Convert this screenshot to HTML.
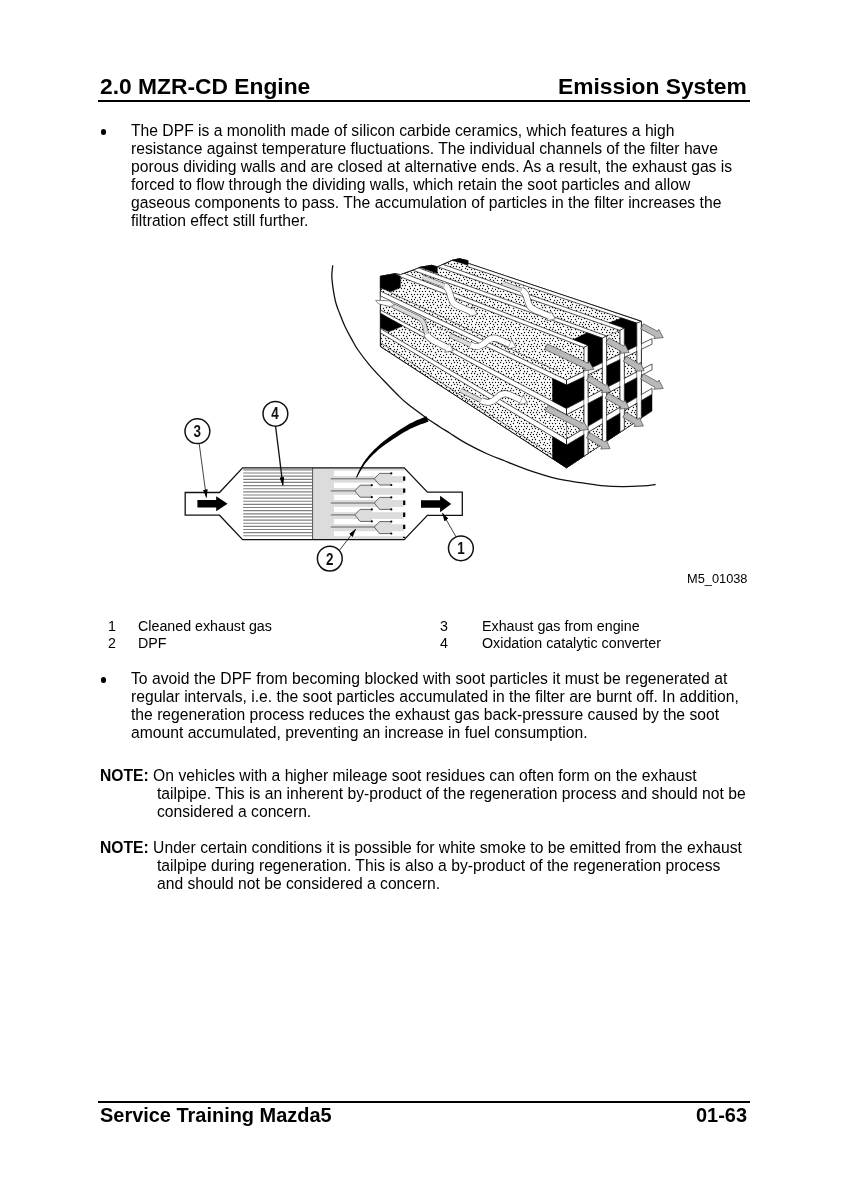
<!DOCTYPE html>
<html lang="en">
<head>
<meta charset="utf-8">
<title>2.0 MZR-CD Engine - Emission System</title>
<style>
html,body{margin:0;padding:0;background:#fff;}
body{width:848px;height:1200px;position:relative;overflow:hidden;font-family:"Liberation Sans",Arial,Helvetica,sans-serif;color:#000;}
.l,.h,.f,.s,.c{will-change:transform;}
.l{position:absolute;white-space:nowrap;font-size:15.68px;line-height:18px;height:18px;}
.h{position:absolute;white-space:nowrap;font-weight:bold;font-size:22.8px;line-height:26px;height:26px;}
.f{position:absolute;white-space:nowrap;font-weight:bold;font-size:19.95px;line-height:22px;height:22px;}
.s{position:absolute;white-space:nowrap;font-size:12.8px;line-height:16px;height:16px;}
.c{position:absolute;white-space:nowrap;font-size:14.25px;line-height:17px;height:17px;}
.rule{position:absolute;left:98.4px;width:651.2px;background:#000;}
.dot{position:absolute;width:5.4px;height:5.4px;border-radius:50%;background:#000;}
b{font-weight:bold;}
svg{position:absolute;left:0;top:0;}
</style>
</head>
<body>
<!-- header -->
<div class="h" style="left:100.2px;top:73px;">2.0 MZR-CD Engine</div>
<div class="h" style="right:101px;top:73px;">Emission System</div>
<div class="rule" style="top:100.1px;height:2.2px;"></div>

<!-- bullet 1 -->
<div class="dot" style="left:101px;top:129.2px;"></div>
<div class="l" style="left:131px;top:122px;">The DPF is a monolith made of silicon carbide ceramics, which features a high</div>
<div class="l" style="left:131px;top:140px;">resistance against temperature fluctuations. The individual channels of the filter have</div>
<div class="l" style="left:131px;top:158px;">porous dividing walls and are closed at alternative ends. As a result, the exhaust gas is</div>
<div class="l" style="left:131px;top:176px;">forced to flow through the dividing walls, which retain the soot particles and allow</div>
<div class="l" style="left:131px;top:194px;">gaseous components to pass. The accumulation of particles in the filter increases the</div>
<div class="l" style="left:131px;top:212px;">filtration effect still further.</div>

<!-- FIGURE -->
<svg id="fig" width="848" height="1200" viewBox="0 0 848 1200">
<!--FIG1-->
<defs>
<marker id="ah" viewBox="0 0 10 10" refX="9.5" refY="5" markerWidth="8.6" markerHeight="4.8" markerUnits="userSpaceOnUse" orient="auto" preserveAspectRatio="none"><path d="M0,0 L10,5 L0,10 z" fill="#000"/></marker>
</defs>
<!-- converter body -->
<g id="conv" fill="none" stroke="#000" stroke-linejoin="miter">
<rect x="312.6" y="467.8" width="91.6" height="71.6" fill="#dcdcdc" stroke="none"/>
<g id="oxlines" stroke="#808080" stroke-width="1.15">
<line x1="243.2" y1="469.90" x2="312.4" y2="469.90"/>
<line x1="243.2" y1="473.04" x2="312.4" y2="473.04"/>
<line x1="243.2" y1="476.17" x2="312.4" y2="476.17"/>
<line x1="243.2" y1="479.31" x2="312.4" y2="479.31"/>
<line x1="243.2" y1="482.44" x2="312.4" y2="482.44"/>
<line x1="243.2" y1="485.58" x2="312.4" y2="485.58"/>
<line x1="243.2" y1="488.71" x2="312.4" y2="488.71"/>
<line x1="243.2" y1="491.85" x2="312.4" y2="491.85"/>
<line x1="243.2" y1="494.99" x2="312.4" y2="494.99"/>
<line x1="243.2" y1="498.12" x2="312.4" y2="498.12"/>
<line x1="243.2" y1="501.26" x2="312.4" y2="501.26"/>
<line x1="243.2" y1="504.39" x2="312.4" y2="504.39"/>
<line x1="243.2" y1="507.53" x2="312.4" y2="507.53"/>
<line x1="243.2" y1="510.66" x2="312.4" y2="510.66"/>
<line x1="243.2" y1="513.80" x2="312.4" y2="513.80"/>
<line x1="243.2" y1="516.94" x2="312.4" y2="516.94"/>
<line x1="243.2" y1="520.07" x2="312.4" y2="520.07"/>
<line x1="243.2" y1="523.21" x2="312.4" y2="523.21"/>
<line x1="243.2" y1="526.34" x2="312.4" y2="526.34"/>
<line x1="243.2" y1="529.48" x2="312.4" y2="529.48"/>
<line x1="243.2" y1="532.61" x2="312.4" y2="532.61"/>
<line x1="243.2" y1="535.75" x2="312.4" y2="535.75"/>
</g>
<!-- white clean channels -->
<g fill="#fff" stroke="none">
<rect x="334" y="470.8" width="70.2" height="5.3"/>
<rect x="334" y="482.6" width="70.2" height="5.3"/>
<rect x="334" y="494.8" width="70.2" height="5.2"/>
<rect x="334" y="506.9" width="70.2" height="5.3"/>
<rect x="334" y="519" width="70.2" height="5.2"/>
<rect x="334" y="531.2" width="70.2" height="5"/>
</g>
<!-- grey diamonds -->
<g fill="#dcdcdc" stroke="none">
<path d="M374.3,478.8 L379.5,473.4 L391.3,473.4 L391.3,485 L379.5,485 z"/>
<path d="M374.3,503 L379.5,497.4 L391.3,497.4 L391.3,509.4 L379.5,509.4 z"/>
<path d="M374.3,527 L379.5,521.6 L391.3,521.6 L391.3,533.6 L379.5,533.6 z"/>
<path d="M354.8,490.9 L360,485.2 L372,485.2 L372,497.2 L360,497.2 z"/>
<path d="M354.8,514.9 L360,509.4 L372,509.4 L372,521.4 L360,521.4 z"/>
</g>
<g stroke="#3a3a3a" stroke-width="0.75">
<path d="M330.8,478.8 H374.3 L379.5,473.4 H391 M374.3,478.8 L379.5,485 H391"/>
<path d="M330.8,503 H374.3 L379.5,497.4 H391 M374.3,503 L379.5,509.4 H391"/>
<path d="M330.8,527 H374.3 L379.5,521.6 H391 M374.3,527 L379.5,533.6 H391"/>
<path d="M330.8,490.9 H354.8 L360,485.2 H371.5 M354.8,490.9 L360,497.2 H371.5"/>
<path d="M330.8,514.9 H354.8 L360,509.4 H371.5 M354.8,514.9 L360,521.4 H371.5"/>
</g>
<g fill="#000" stroke="none">
<circle cx="391.3" cy="473.4" r="1.1"/><circle cx="391.3" cy="485" r="1.1"/>
<circle cx="391.3" cy="497.4" r="1.1"/><circle cx="391.3" cy="509.4" r="1.1"/>
<circle cx="391.3" cy="521.6" r="1.1"/><circle cx="391.3" cy="533.6" r="1.1"/>
<circle cx="371.8" cy="485.2" r="1.1"/><circle cx="371.8" cy="497.2" r="1.1"/>
<circle cx="371.8" cy="509.4" r="1.1"/><circle cx="371.8" cy="521.4" r="1.1"/>
</g>
<line x1="404.2" y1="470" x2="404.2" y2="538" stroke="#000" stroke-width="2.2" stroke-dasharray="4.4,7.66" stroke-dashoffset="-6.4"/>
<line x1="312.6" y1="467.8" x2="312.6" y2="539.4" stroke="#555" stroke-width="1"/>
<path d="M185.2,492.5 H219.5 L242.6,467.8 H404.2 L427.4,492.2 H462.3 V515.4 H427.4 L404.2,539.6 H242.6 L219.5,515.2 H185.2 z" stroke="#111" stroke-width="1.3"/>
</g>
<!-- black flow arrows -->
<path d="M197.4,500 H216.2 V496.2 L227.6,503.7 L216.2,511.2 V507.4 H197.4 z" fill="#000"/>
<path d="M421,500.2 H440.1 V495.7 L451.2,503.9 L440.1,512.2 V507.8 H421 z" fill="#000"/>
<!-- callouts -->
<g fill="#fff" stroke="#111" stroke-width="1.5">
<circle cx="197.4" cy="431.2" r="12.4"/>
<circle cx="275.4" cy="413.8" r="12.4"/>
<circle cx="329.8" cy="558.6" r="12.4"/>
<circle cx="460.9" cy="548.3" r="12.4"/>
</g>
<g font-family="'Liberation Sans',Arial,sans-serif" font-weight="bold" font-size="16.8" text-anchor="middle" fill="#111">
<text x="197.3" y="437.3" transform="translate(197.3 0) scale(0.8 1) translate(-197.3 0)">3</text>
<text x="275.0" y="419.3" transform="translate(275.0 0) scale(0.8 1) translate(-275.0 0)">4</text>
<text x="329.8" y="564.6" transform="translate(329.8 0) scale(0.8 1) translate(-329.8 0)">2</text>
<text x="460.9" y="554.3" transform="translate(460.9 0) scale(0.8 1) translate(-460.9 0)">1</text>
</g>
<g stroke="#111" stroke-width="0.8" fill="none">
<line x1="199.2" y1="443.7" x2="206.4" y2="497.6" marker-end="url(#ah)"/>
<line x1="275.6" y1="426.4" x2="282.9" y2="485.4" marker-end="url(#ah)" stroke-width="1.3"/>
<line x1="339.3" y1="550.5" x2="355.8" y2="529" marker-end="url(#ah)"/>
<line x1="456" y1="536.8" x2="442.4" y2="513" marker-end="url(#ah)"/>
</g>

<!--/FIG1-->
<!--FIG2-->
<defs><pattern id="dots" width="26.00" height="22.00" patternUnits="userSpaceOnUse"><rect x="-1" y="-1" width="28.00" height="24.00" fill="#fff"/><g fill="#111"><circle cx="-0.50" cy="-0.50" r="0.7"/><circle cx="-0.50" cy="21.50" r="0.7"/><circle cx="25.50" cy="-0.50" r="0.7"/><circle cx="25.50" cy="21.50" r="0.7"/><circle cx="3.50" cy="-0.50" r="0.7"/><circle cx="3.50" cy="21.50" r="0.7"/><circle cx="6.50" cy="-0.50" r="0.7"/><circle cx="6.50" cy="21.50" r="0.7"/><circle cx="9.50" cy="0.50" r="0.7"/><circle cx="9.50" cy="22.50" r="0.7"/><circle cx="12.50" cy="-0.50" r="0.7"/><circle cx="12.50" cy="21.50" r="0.7"/><circle cx="15.50" cy="-0.50" r="0.7"/><circle cx="15.50" cy="21.50" r="0.7"/><circle cx="19.50" cy="0.50" r="0.7"/><circle cx="19.50" cy="22.50" r="0.7"/><circle cx="22.50" cy="-0.50" r="0.7"/><circle cx="22.50" cy="21.50" r="0.7"/><circle cx="1.50" cy="3.50" r="0.7"/><circle cx="4.50" cy="2.50" r="0.7"/><circle cx="8.50" cy="2.50" r="0.7"/><circle cx="11.50" cy="2.50" r="0.7"/><circle cx="14.50" cy="2.50" r="0.7"/><circle cx="17.50" cy="3.50" r="0.7"/><circle cx="20.50" cy="2.50" r="0.7"/><circle cx="24.50" cy="2.50" r="0.7"/><circle cx="-0.50" cy="5.50" r="0.7"/><circle cx="25.50" cy="5.50" r="0.7"/><circle cx="3.50" cy="5.50" r="0.7"/><circle cx="6.50" cy="5.50" r="0.7"/><circle cx="9.50" cy="5.50" r="0.7"/><circle cx="13.50" cy="5.50" r="0.7"/><circle cx="16.50" cy="6.50" r="0.7"/><circle cx="19.50" cy="5.50" r="0.7"/><circle cx="23.50" cy="4.50" r="0.7"/><circle cx="1.50" cy="8.50" r="0.7"/><circle cx="4.50" cy="8.50" r="0.7"/><circle cx="7.50" cy="8.50" r="0.7"/><circle cx="11.50" cy="8.50" r="0.7"/><circle cx="14.50" cy="8.50" r="0.7"/><circle cx="17.50" cy="8.50" r="0.7"/><circle cx="21.50" cy="8.50" r="0.7"/><circle cx="24.50" cy="8.50" r="0.7"/><circle cx="-0.50" cy="11.50" r="0.7"/><circle cx="25.50" cy="11.50" r="0.7"/><circle cx="3.50" cy="11.50" r="0.7"/><circle cx="6.50" cy="10.50" r="0.7"/><circle cx="9.50" cy="11.50" r="0.7"/><circle cx="12.50" cy="10.50" r="0.7"/><circle cx="15.50" cy="10.50" r="0.7"/><circle cx="18.50" cy="11.50" r="0.7"/><circle cx="22.50" cy="10.50" r="0.7"/><circle cx="1.50" cy="14.50" r="0.7"/><circle cx="4.50" cy="13.50" r="0.7"/><circle cx="8.50" cy="14.50" r="0.7"/><circle cx="11.50" cy="14.50" r="0.7"/><circle cx="14.50" cy="13.50" r="0.7"/><circle cx="17.50" cy="14.50" r="0.7"/><circle cx="21.50" cy="13.50" r="0.7"/><circle cx="24.50" cy="13.50" r="0.7"/><circle cx="-0.50" cy="16.50" r="0.7"/><circle cx="25.50" cy="16.50" r="0.7"/><circle cx="3.50" cy="16.50" r="0.7"/><circle cx="7.50" cy="16.50" r="0.7"/><circle cx="10.50" cy="16.50" r="0.7"/><circle cx="13.50" cy="16.50" r="0.7"/><circle cx="16.50" cy="16.50" r="0.7"/><circle cx="19.50" cy="16.50" r="0.7"/><circle cx="22.50" cy="15.50" r="0.7"/><circle cx="0.50" cy="18.50" r="0.7"/><circle cx="26.50" cy="18.50" r="0.7"/><circle cx="4.50" cy="19.50" r="0.7"/><circle cx="7.50" cy="19.50" r="0.7"/><circle cx="11.50" cy="18.50" r="0.7"/><circle cx="14.50" cy="19.50" r="0.7"/><circle cx="17.50" cy="18.50" r="0.7"/><circle cx="21.50" cy="19.50" r="0.7"/><circle cx="24.50" cy="19.50" r="0.7"/></g></pattern></defs>
<path d="M332.7,265.3 C332.6,267.0 331.8,272.2 331.8,275.6 C331.8,279.0 332.3,282.2 332.7,285.7 C333.1,289.1 333.8,293.1 334.4,296.3 C335.0,299.5 335.6,302.1 336.5,305.0 C337.4,307.9 338.3,310.0 339.7,313.6 C341.1,317.2 343.0,322.3 345.0,326.5 C347.0,330.7 349.3,335.0 351.5,338.9 C353.7,342.8 354.9,345.6 358.0,350.0 C361.1,354.4 365.8,360.6 370.0,365.6 C374.2,370.6 378.4,374.9 383.0,379.8 C387.6,384.7 393.7,390.9 397.8,395.0 C401.9,399.1 403.1,400.4 407.7,404.1 C412.3,407.8 420.1,413.4 425.4,417.2 C430.7,421.0 435.4,424.0 439.5,426.7 C443.6,429.4 445.6,430.5 450.0,433.3 C454.4,436.1 459.9,439.9 466.2,443.4 C472.4,446.8 481.0,451.1 487.5,454.0 C494.0,456.9 498.2,458.3 505.0,461.0 C511.8,463.7 519.7,467.2 528.3,470.2 C536.9,473.1 548.0,476.6 556.6,478.7 C565.2,480.8 572.6,481.5 580.0,482.6 C587.4,483.8 594.1,484.9 601.2,485.6 C608.3,486.3 615.4,486.6 622.5,486.6 C629.6,486.7 638.2,486.2 643.7,485.9 C649.2,485.5 653.6,484.7 655.6,484.5" fill="none" stroke="#111" stroke-width="1.3"/>
<polygon points="356.8,477.8 357.5,476.8 358.2,475.3 359.1,473.6 360.1,471.7 361.2,469.8 362.4,467.8 363.6,465.9 364.8,464.1 366.0,462.5 367.3,460.9 368.6,459.4 370.0,457.8 371.5,456.3 373.0,454.7 374.6,453.2 376.3,451.7 378.1,450.1 379.9,448.6 381.9,447.0 383.9,445.5 386.0,443.9 388.2,442.4 390.4,440.9 392.6,439.4 394.9,437.9 397.4,436.4 399.9,434.8 402.4,433.3 404.9,431.8 407.4,430.4 409.8,429.1 412.1,428.0 414.4,426.9 416.7,425.9 419.1,425.0 421.4,424.1 423.6,423.4 425.6,422.7 427.3,422.1 428.6,421.7 426.4,416.3 425.2,416.8 423.6,417.5 421.7,418.3 419.5,419.2 417.1,420.1 414.7,421.2 412.3,422.4 409.9,423.6 407.5,425.0 405.1,426.4 402.6,427.9 400.1,429.6 397.6,431.2 395.1,432.9 392.7,434.6 390.4,436.2 388.2,437.8 386.0,439.5 383.9,441.1 381.8,442.8 379.8,444.5 377.9,446.2 376.1,447.9 374.3,449.5 372.7,451.2 371.1,452.9 369.6,454.6 368.2,456.2 366.9,457.9 365.6,459.6 364.4,461.3 363.2,463.1 362.1,464.9 360.9,466.9 359.9,469.0 358.8,471.1 357.9,473.0 357.1,474.8 356.5,476.3 356.0,477.4" fill="#000"/>
<g id="block"><polygon points="380.4,276.3 395.0,273.7 400.5,274.6 413.7,269.9 419.9,267.3 431.5,265.3 437.3,266.9 452.1,260.3 459.5,258.7 467.8,260.7 467.8,263.2 641.4,321.3 641.3,418.2 566.5,467.8 380.4,346.5" fill="url(#dots)" stroke="#111" stroke-width="0.8" stroke-linejoin="round" />
<clipPath id="silclip"><polygon points="380.4,276.3 395.0,273.7 400.5,274.6 413.7,269.9 419.9,267.3 431.5,265.3 437.3,266.9 452.1,260.3 459.5,258.7 467.8,260.7 467.8,263.2 641.4,321.3 641.3,418.2 566.5,467.8 380.4,346.5"/></clipPath>
<g clip-path="url(#silclip)">
<polygon points="467.7,262.2 641.4,321.3 636.8,323.1 467.7,266.6" fill="#fff" stroke="#111" stroke-width="0.7" stroke-linejoin="round" />
<polygon points="429.5,259.7 624.3,328.0 620.0,330.4 429.5,263.9" fill="#fff" stroke="#111" stroke-width="0.7" stroke-linejoin="round" />
<polygon points="407.0,263.7 606.6,336.0 602.4,338.2 407.0,268.2" fill="#fff" stroke="#111" stroke-width="0.7" stroke-linejoin="round" />
<polygon points="392.5,268.8 588.0,345.2 584.0,347.5 392.5,273.8" fill="#fff" stroke="#111" stroke-width="0.7" stroke-linejoin="round" />
</g>
<polygon points="380.4,276.3 395.0,273.7 400.5,274.6 413.7,269.9 419.9,267.3 431.5,265.3 437.3,266.9 452.1,260.3 459.5,258.7 467.8,260.7 467.8,263.2 641.4,321.3 641.3,418.2 566.5,467.8 380.4,346.5" fill="none" stroke="#111" stroke-width="0.8" stroke-linejoin="round"/>
<polygon points="380.4,291.0 566.5,380.0 566.5,385.1 380.4,296.0" fill="#fff" stroke="#111" stroke-width="0.7" stroke-linejoin="round" />
<polygon points="380.4,310.0 566.5,408.5 566.5,414.7 380.4,313.6" fill="#fff" stroke="#111" stroke-width="0.7" stroke-linejoin="round" />
<polygon points="380.4,328.6 566.5,439.0 566.5,445.0 380.4,332.8" fill="#fff" stroke="#111" stroke-width="0.7" stroke-linejoin="round" />
<line x1="390.4" y1="292.6" x2="558.5" y2="371.6" stroke="#111" stroke-width="0.6"/>
<polygon points="380.4,296.0 424.0,316.9 424.0,323.1 380.4,301.6" fill="#fff" stroke="#333" stroke-width="0.5" stroke-linejoin="round" />
<line x1="380.4" y1="342.6" x2="552.5" y2="455.5" stroke="#111" stroke-width="0.6"/>
<line x1="383.4" y1="300.6" x2="470" y2="342.3" stroke="#222" stroke-width="1.1" stroke-dasharray="1,1.6"/>
<polygon points="380.4,276.3 395.0,273.7 400.4,276.3 400.4,287.6 390.8,291.8 380.4,288.0" fill="#000" stroke="#111" stroke-width="0.5" stroke-linejoin="round" />
<polygon points="380.8,313.4 402.1,325.5 402.1,326.3 388.8,331.8 380.8,328.0" fill="#000" stroke="#111" stroke-width="0.5" stroke-linejoin="round" />
<polygon points="419.9,267.3 431.5,265.3 437.3,266.9 437.3,273.5" fill="#000" stroke="#111" stroke-width="0.5" stroke-linejoin="round" />
<polygon points="452.1,260.3 459.5,258.7 467.8,260.7 467.8,265.3" fill="#000" stroke="#111" stroke-width="0.5" stroke-linejoin="round" />
<polygon points="588.0,374.8 602.4,367.9 602.4,389.8 588.0,397.3" fill="url(#dots)" stroke="#111" stroke-width="0.5" stroke-linejoin="round" />
<polygon points="606.6,365.9 620.0,359.5 620.0,380.7 606.6,387.6" fill="#000" stroke="#111" stroke-width="0.5" stroke-linejoin="round" />
<polygon points="624.3,357.5 637.0,351.4 637.0,371.8 624.3,378.4" fill="url(#dots)" stroke="#111" stroke-width="0.5" stroke-linejoin="round" />
<polygon points="588.0,403.4 602.4,395.8 602.4,417.7 588.0,426.3" fill="#000" stroke="#111" stroke-width="0.5" stroke-linejoin="round" />
<polygon points="606.6,393.6 620.0,386.6 620.0,407.3 606.6,415.2" fill="url(#dots)" stroke="#111" stroke-width="0.5" stroke-linejoin="round" />
<polygon points="624.3,384.3 637.0,377.7 637.0,397.2 624.3,404.7" fill="#000" stroke="#111" stroke-width="0.5" stroke-linejoin="round" />
<polygon points="588.0,432.2 602.4,423.7 602.4,444.0 588.0,453.5" fill="url(#dots)" stroke="#111" stroke-width="0.5" stroke-linejoin="round" />
<polygon points="606.6,421.2 620.0,413.2 620.0,432.3 606.6,441.2" fill="#000" stroke="#111" stroke-width="0.5" stroke-linejoin="round" />
<polygon points="624.3,410.7 637.0,403.1 637.0,421.0 624.3,429.5" fill="url(#dots)" stroke="#111" stroke-width="0.5" stroke-linejoin="round" />
<polygon points="641.3,400.6 652.0,394.2 652.0,411.1 641.3,418.2" fill="#000" stroke="#111" stroke-width="0.5" stroke-linejoin="round" />
<polygon points="552.5,378.4 566.5,385.1 584.0,376.7 584.0,399.4 566.5,408.5 552.5,401.1" fill="#000" stroke="#111" stroke-width="0.5" stroke-linejoin="round" />
<polygon points="552.5,436.6 566.5,445.0 584.0,434.6 584.0,456.2 566.5,467.8 552.5,458.7" fill="#000" stroke="#111" stroke-width="0.5" stroke-linejoin="round" />
<polygon points="566.5,414.7 584.0,405.5 584.0,428.6 566.5,439.0" fill="url(#dots)" stroke="#111" stroke-width="0.5" stroke-linejoin="round" />
<polygon points="573.3,339.5 587.0,332.7 602.4,338.2 602.4,362.6 588.0,369.6 588.0,345.2" fill="#000" stroke="#111" stroke-width="0.5" stroke-linejoin="round" />
<polygon points="609.4,322.8 621.5,318.0 636.8,323.1 637.0,345.9 624.3,352.0 624.3,328.0" fill="#000" stroke="#111" stroke-width="0.5" stroke-linejoin="round" />
<polygon points="606.6,336.0 620.0,330.4 620.0,354.1 606.6,360.6" fill="url(#dots)" stroke="#111" stroke-width="0.5" stroke-linejoin="round" />
<line x1="566.5" y1="380.0" x2="584.0" y2="371.5" stroke="#111" stroke-width="0.7"/>
<polygon points="566.5,380.0 652.0,338.6 652.0,344.2 566.5,385.1" fill="#fff" stroke="#111" stroke-width="0.7" stroke-linejoin="round" />
<polygon points="566.5,408.5 652.0,364.0 652.0,369.8 566.5,414.7" fill="#fff" stroke="#111" stroke-width="0.7" stroke-linejoin="round" />
<polygon points="566.5,439.0 652.0,388.3 652.0,394.2 566.5,445.0" fill="#fff" stroke="#111" stroke-width="0.7" stroke-linejoin="round" />
<polygon points="584.0,347.5 588.0,345.2 588.0,453.5 584.0,456.2" fill="#fff" stroke="#111" stroke-width="0.7" stroke-linejoin="round" />
<polygon points="602.4,338.2 606.6,336.0 606.6,441.2 602.4,444.0" fill="#fff" stroke="#111" stroke-width="0.7" stroke-linejoin="round" />
<polygon points="620.0,330.4 624.3,328.0 624.3,429.5 620.0,432.3" fill="#fff" stroke="#111" stroke-width="0.7" stroke-linejoin="round" />
<polygon points="636.8,323.1 641.4,321.3 641.3,418.2 637.0,421.0" fill="#fff" stroke="#111" stroke-width="0.7" stroke-linejoin="round" />
<polygon points="584.4,371.8 587.6,370.3 587.6,374.5 584.4,376.0" fill="#fff" stroke="none" stroke-width="0.7" stroke-linejoin="round" />
<polygon points="602.8,362.9 606.2,361.3 606.2,365.6 602.8,367.2" fill="#fff" stroke="none" stroke-width="0.7" stroke-linejoin="round" />
<polygon points="620.4,354.4 623.9,352.7 623.9,357.1 620.4,358.8" fill="#fff" stroke="none" stroke-width="0.7" stroke-linejoin="round" />
<polygon points="637.4,346.2 640.9,344.5 640.9,349.0 637.4,350.7" fill="#fff" stroke="none" stroke-width="0.7" stroke-linejoin="round" />
<polygon points="584.4,399.7 587.6,398.0 587.6,403.1 584.4,404.8" fill="#fff" stroke="none" stroke-width="0.7" stroke-linejoin="round" />
<polygon points="602.8,390.1 606.2,388.3 606.2,393.4 602.8,395.1" fill="#fff" stroke="none" stroke-width="0.7" stroke-linejoin="round" />
<polygon points="620.4,380.9 623.9,379.1 623.9,384.1 620.4,385.9" fill="#fff" stroke="none" stroke-width="0.7" stroke-linejoin="round" />
<polygon points="637.4,372.1 640.9,370.3 640.9,375.1 637.4,377.0" fill="#fff" stroke="none" stroke-width="0.7" stroke-linejoin="round" />
<polygon points="584.4,428.9 587.6,427.0 587.6,432.0 584.4,433.9" fill="#fff" stroke="none" stroke-width="0.7" stroke-linejoin="round" />
<polygon points="602.8,418.0 606.2,416.0 606.2,420.9 602.8,422.9" fill="#fff" stroke="none" stroke-width="0.7" stroke-linejoin="round" />
<polygon points="620.4,407.5 623.9,405.5 623.9,410.4 620.4,412.5" fill="#fff" stroke="none" stroke-width="0.7" stroke-linejoin="round" />
<polygon points="637.4,397.5 640.9,395.4 640.9,400.3 637.4,402.4" fill="#fff" stroke="none" stroke-width="0.7" stroke-linejoin="round" />
<line x1="566.5" y1="380.0" x2="566.5" y2="385.1" stroke="#111" stroke-width="0.7"/>
<line x1="566.5" y1="408.5" x2="566.5" y2="414.7" stroke="#111" stroke-width="0.7"/>
<line x1="566.5" y1="439.0" x2="566.5" y2="445.0" stroke="#111" stroke-width="0.7"/>
<polygon points="544.7,349.3 585.6,368.8 584.6,370.8 593.9,369.4 589.1,361.3 588.1,363.3 547.3,343.9" fill="#b9b9b9" stroke="#333" stroke-width="0.6" stroke-linejoin="round" />
<polygon points="605.8,343.0 620.9,351.4 619.8,353.4 629.2,352.5 624.9,344.1 623.8,346.1 608.8,337.8" fill="#b9b9b9" stroke="#333" stroke-width="0.6" stroke-linejoin="round" />
<polygon points="640.6,328.9 654.9,336.6 653.8,338.6 663.2,337.6 658.8,329.3 657.7,331.3 643.4,323.7" fill="#b9b9b9" stroke="#333" stroke-width="0.6" stroke-linejoin="round" />
<polygon points="586.4,380.6 602.6,390.5 601.4,392.5 610.8,392.1 607.0,383.5 605.7,385.4 589.6,375.4" fill="#b9b9b9" stroke="#333" stroke-width="0.6" stroke-linejoin="round" />
<polygon points="623.4,361.3 635.9,369.2 634.7,371.1 644.1,370.8 640.3,362.2 639.1,364.1 626.6,356.3" fill="#b9b9b9" stroke="#333" stroke-width="0.6" stroke-linejoin="round" />
<polygon points="640.5,379.1 654.9,387.3 653.8,389.3 663.2,388.5 659.0,380.0 657.9,382.0 643.5,373.9" fill="#b9b9b9" stroke="#333" stroke-width="0.6" stroke-linejoin="round" />
<polygon points="545.2,410.8 579.9,428.6 578.8,430.6 588.2,429.5 583.7,421.2 582.6,423.3 548.0,405.4" fill="#b9b9b9" stroke="#333" stroke-width="0.6" stroke-linejoin="round" />
<polygon points="605.1,398.2 620.9,407.1 619.8,409.1 629.2,408.3 625.0,399.9 623.9,401.9 608.1,393.0" fill="#b9b9b9" stroke="#333" stroke-width="0.6" stroke-linejoin="round" />
<polygon points="586.4,437.8 601.9,447.1 600.7,449.1 610.1,448.6 606.2,440.0 605.0,442.0 589.6,432.6" fill="#b9b9b9" stroke="#333" stroke-width="0.6" stroke-linejoin="round" />
<polygon points="622.8,417.3 635.2,424.6 634.0,426.6 643.4,426.0 639.4,417.5 638.2,419.4 625.8,412.1" fill="#b9b9b9" stroke="#333" stroke-width="0.6" stroke-linejoin="round" /></g>
<g id="flows"><path d="M422.6,277.3 L444.5,285.6 " fill="none" stroke="#444" stroke-width="4.7" stroke-linecap="butt" stroke-linejoin="round"/>
<path d="M444.5,285.6 C450.5,288 449.5,296.5 452.5,301.5 C454.5,305 458.5,306.3 462.5,308 L471.5,311.8" fill="none" stroke="#444" stroke-width="6.699999999999999" stroke-linecap="butt" stroke-linejoin="round"/>
<polygon points="468.8,316.5 477.3,314.4 472.9,306.8" fill="#fff" stroke="#444" stroke-width="0.6" stroke-linejoin="round" />
<path d="M444.5,285.6 C450.5,288 449.5,296.5 452.5,301.5 C454.5,305 458.5,306.3 462.5,308 L471.5,311.8" fill="none" stroke="#fff" stroke-width="5.6" stroke-linecap="butt" stroke-linejoin="round"/>
<path d="M422.6,277.3 L444.5,285.6" fill="none" stroke="#dcdcdc" stroke-width="3.6" stroke-linecap="butt" stroke-linejoin="round"/>
<path d="M502.6,283.2 L521.5,290.2 " fill="none" stroke="#444" stroke-width="4.7" stroke-linecap="butt" stroke-linejoin="round"/>
<path d="M521.5,290.2 C527.5,292.5 526.5,300.5 529.5,305.5 C531.5,309 535.5,310.3 539.5,312 L549.5,316.3" fill="none" stroke="#444" stroke-width="6.699999999999999" stroke-linecap="butt" stroke-linejoin="round"/>
<polygon points="546.8,320.9 555.3,318.8 550.9,311.2" fill="#fff" stroke="#444" stroke-width="0.6" stroke-linejoin="round" />
<path d="M521.5,290.2 C527.5,292.5 526.5,300.5 529.5,305.5 C531.5,309 535.5,310.3 539.5,312 L549.5,316.3" fill="none" stroke="#fff" stroke-width="5.6" stroke-linecap="butt" stroke-linejoin="round"/>
<path d="M502.6,283.2 L521.5,290.2" fill="none" stroke="#dcdcdc" stroke-width="3.6" stroke-linecap="butt" stroke-linejoin="round"/>
<path d="M392.9,305.6 L419.5,318.4 C425.5,321.3 424.5,329 426.8,334  " fill="none" stroke="#444" stroke-width="4.7" stroke-linecap="butt" stroke-linejoin="round"/>
<path d="M426.8,334 C428.5,338.5 433,340.6 437,342.6 L447.5,347.8" fill="none" stroke="#444" stroke-width="6.699999999999999" stroke-linecap="butt" stroke-linejoin="round"/>
<polygon points="444.7,352.3 453.3,350.7 449.4,342.9" fill="#fff" stroke="#444" stroke-width="0.6" stroke-linejoin="round" />
<path d="M426.8,334 C428.5,338.5 433,340.6 437,342.6 L447.5,347.8" fill="none" stroke="#fff" stroke-width="5.6" stroke-linecap="butt" stroke-linejoin="round"/>
<path d="M392.9,305.6 L419.5,318.4 C425.5,321.3 424.5,329 426.8,334 " fill="none" stroke="#dcdcdc" stroke-width="3.6" stroke-linecap="butt" stroke-linejoin="round"/>
<polygon points="375.6,300.3 389.5,300.9 394.4,304.9 390.2,306.6 378.6,303.9" fill="#fff" stroke="#444" stroke-width="0.6" stroke-linejoin="round" />
<path d="M450,335.3 L470.5,345  " fill="none" stroke="#444" stroke-width="4.7" stroke-linecap="butt" stroke-linejoin="round"/>
<path d="M470.5,345 C478,348.6 482.5,345.5 486.5,341.5 C490.5,337.6 494,337.3 498,339 L509.5,344.3" fill="none" stroke="#444" stroke-width="6.699999999999999" stroke-linecap="butt" stroke-linejoin="round"/>
<polygon points="507.3,349.0 515.9,347.2 511.7,339.5" fill="#fff" stroke="#444" stroke-width="0.6" stroke-linejoin="round" />
<path d="M470.5,345 C478,348.6 482.5,345.5 486.5,341.5 C490.5,337.6 494,337.3 498,339 L509.5,344.3" fill="none" stroke="#fff" stroke-width="5.6" stroke-linecap="butt" stroke-linejoin="round"/>
<path d="M450,335.3 L470.5,345 " fill="none" stroke="#dcdcdc" stroke-width="3.6" stroke-linecap="butt" stroke-linejoin="round"/>
<path d="M460.7,390.3 L481,400.6  " fill="none" stroke="#444" stroke-width="4.7" stroke-linecap="butt" stroke-linejoin="round"/>
<path d="M481,400.6 C489,404.6 493.5,401.5 497.5,397.3 C501.5,393.2 505.5,393 509.5,394.8 L521,400" fill="none" stroke="#444" stroke-width="6.699999999999999" stroke-linecap="butt" stroke-linejoin="round"/>
<polygon points="518.8,404.7 527.4,402.9 523.2,395.2" fill="#fff" stroke="#444" stroke-width="0.6" stroke-linejoin="round" />
<path d="M481,400.6 C489,404.6 493.5,401.5 497.5,397.3 C501.5,393.2 505.5,393 509.5,394.8 L521,400" fill="none" stroke="#fff" stroke-width="5.6" stroke-linecap="butt" stroke-linejoin="round"/>
<path d="M460.7,390.3 L481,400.6 " fill="none" stroke="#dcdcdc" stroke-width="3.6" stroke-linecap="butt" stroke-linejoin="round"/></g>
<!--/FIG2-->
</svg>

<div class="s" style="left:686.8px;top:570.7px;">M5_01038</div>

<!-- legend -->
<div class="c" style="left:108px;top:618.1px;">1</div>
<div class="c" style="left:138.2px;top:618.1px;">Cleaned exhaust gas</div>
<div class="c" style="left:108px;top:634.6px;">2</div>
<div class="c" style="left:138.2px;top:634.6px;">DPF</div>
<div class="c" style="left:440.2px;top:618.1px;">3</div>
<div class="c" style="left:481.6px;top:618.1px;">Exhaust gas from engine</div>
<div class="c" style="left:440.2px;top:634.6px;">4</div>
<div class="c" style="left:481.6px;top:634.6px;">Oxidation catalytic converter</div>

<!-- bullet 2 -->
<div class="dot" style="left:101px;top:677.2px;"></div>
<div class="l" style="left:131px;top:670.3px;word-spacing:0.16px;">To avoid the DPF from becoming blocked with soot particles it must be regenerated at</div>
<div class="l" style="left:131px;top:688.25px;">regular intervals, i.e. the soot particles accumulated in the filter are burnt off. In addition,</div>
<div class="l" style="left:131px;top:706.2px;">the regeneration process reduces the exhaust gas back-pressure caused by the soot</div>
<div class="l" style="left:131px;top:724.15px;">amount accumulated, preventing an increase in fuel consumption.</div>

<!-- notes -->
<div class="l" style="left:100.3px;top:767.4px;"><b>NOTE:</b> On vehicles with a higher mileage soot residues can often form on the exhaust</div>
<div class="l" style="left:157.4px;top:785.1px;">tailpipe. This is an inherent by-product of the regeneration process and should not be</div>
<div class="l" style="left:157.4px;top:803.2px;">considered a concern.</div>

<div class="l" style="left:100.3px;top:839.4px;"><b>NOTE:</b> Under certain conditions it is possible for white smoke to be emitted from the exhaust</div>
<div class="l" style="left:157.4px;top:857.1px;">tailpipe during regeneration. This is also a by-product of the regeneration process</div>
<div class="l" style="left:157.4px;top:875.2px;">and should not be considered a concern.</div>

<!-- footer -->
<div class="rule" style="top:1100.5px;height:2.2px;"></div>
<div class="f" style="left:100.2px;top:1104.2px;">Service Training Mazda5</div>
<div class="f" style="right:101px;top:1104.2px;">01-63</div>
</body>
</html>
